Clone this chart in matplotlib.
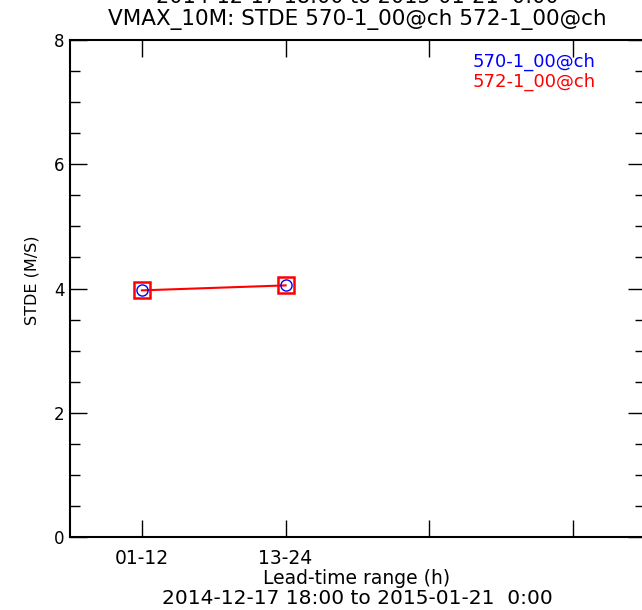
import matplotlib
matplotlib.use("Agg")
import matplotlib.pyplot as plt
from matplotlib.ticker import MultipleLocator

categories = ["01-12", "13-24", "", ""]
x_pos = [1, 2, 3, 4]
s570 = [3.97, 4.05]
s572 = [3.97, 4.05]
name570 = "570-1_00@ch"
name572 = "572-1_00@ch"
period = "2014-12-17 18:00 to 2015-01-21  0:00"

plt.rcParams['font.family'] = ['DejaVu Sans']
W, H = 642, 610
fig = plt.figure(figsize=(W/100, H/100), dpi=100)
ax = fig.add_axes([70/W, 1-537/H, 575/W, 497/H])

ax.plot(x_pos[:2], s572, color='red', lw=1.5, marker='s', ms=11,
        mfc='none', mec='red', mew=1.8, zorder=3)
ax.plot(x_pos[:2], s570, color='blue', lw=0, marker='o', ms=8,
        mfc='none', mec='blue', mew=1.0, zorder=4)

ax.set_xlim(0.5, 4.5)
ax.set_ylim(0, 8)
ax.set_xticks(x_pos)
ax.set_xticklabels(categories)
ax.yaxis.set_major_locator(MultipleLocator(2))
ax.yaxis.set_minor_locator(MultipleLocator(0.5))
ax.tick_params(axis='both', which='major', direction='in', length=12, width=1,
               top=True, right=True, labelsize=12)
ax.tick_params(axis='x', which='major', labelsize=13.5, pad=9)
ax.tick_params(axis='y', which='major', pad=4)
ax.tick_params(axis='y', which='minor', direction='in', length=7, width=1, right=True)
for sp in ax.spines.values():
    sp.set_linewidth(1.5)

fig.text(357/W, 1-(-3)/H, period, ha='center', va='center', fontsize=15)
fig.text(357/W, 1-19/H, "VMAX_10M: STDE " + name570 + " " + name572,
         ha='center', va='center', fontsize=15.5)
fig.text(473/W, 1-62/H, name570, color='blue', ha='left', va='center', fontsize=13)
fig.text(473/W, 1-82/H, name572, color='red', ha='left', va='center', fontsize=13)
fig.text(357/W, 1-578/H, "Lead-time range (h)", ha='center', va='center', fontsize=13.5)
fig.text(357/W, 1-598/H, period, ha='center', va='center', fontsize=14.5)
fig.text(32/W, 1-280/H, "STDE (M/S)", rotation=90, ha='center', va='center', fontsize=11.5)

fig.savefig("out.png", dpi=100)
